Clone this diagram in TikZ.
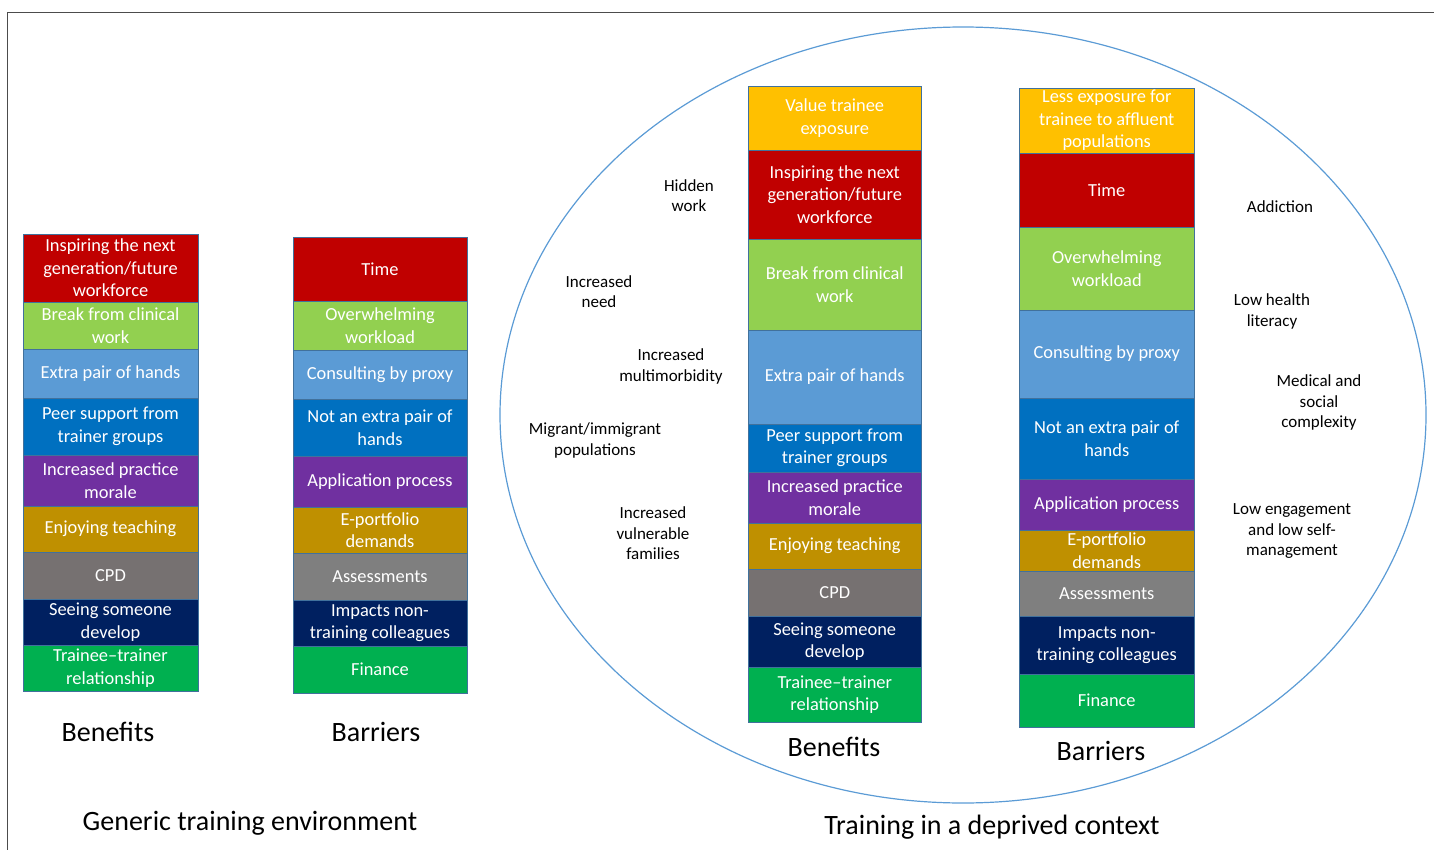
\documentclass[tikz,border=0pt]{standalone}
\usepackage{fontspec}
\setmainfont{Carlito}

\definecolor{cellline}{HTML}{41719C}
\definecolor{cred}{HTML}{C00000}
\definecolor{clime}{HTML}{92D050}
\definecolor{csky}{HTML}{5B9BD5}
\definecolor{cblue}{HTML}{0070C0}
\definecolor{cpurple}{HTML}{7030A0}
\definecolor{cgold}{HTML}{BF9000}
\definecolor{cgrey}{HTML}{767171}
\definecolor{cgreyb}{HTML}{7F7F7F}
\definecolor{cnavy}{HTML}{002060}
\definecolor{cgreen}{HTML}{00B050}
\definecolor{cyellow}{HTML}{FFC000}
\definecolor{ringblue}{HTML}{5B9BD5}

\tikzset{
	cell/.style={draw=cellline,line width=0.8pt,text=white,inner sep=0pt,align=center,
		font=\fontsize{18.4}{22.5}\selectfont},
	genben/.style={cell,minimum width=175pt},
	genbar/.style={cell,minimum width=174pt},
	depben/.style={cell,minimum width=173.5pt},
	depbar/.style={cell,minimum width=174.5pt},
	coltitle/.style={font=\fontsize{28}{33}\selectfont},
	note/.style={align=center,font=\fontsize{17}{20.5}\selectfont}
}

\begin{document}
\begin{tikzpicture}[x=1pt,y=-1pt]
		\useasboundingbox (0,0) rectangle (1434,850);
		% frame and ring
		\draw[black!70,line width=0.8pt] (7,850)|-(1434,12);
		\draw[ringblue,line width=1.2pt] (963,415) ellipse[x radius=463,y radius=388];

		% generic training environment: benefits
		\node[genben,fill=cred,minimum height=68pt] (gb1) at (110.5,268) {Inspiring the next\\generation/future\\workforce};
		\node[genben,fill=clime,minimum height=47pt] (gb2) at (110.5,325.5) {Break from clinical\\work};
		\node[genben,fill=csky,minimum height=49pt] (gb3) at (110.5,373.5) {Extra pair of hands};
		\node[genben,fill=cblue,minimum height=57pt] (gb4) at (110.5,426.5) {Peer support from\\trainer groups};
		\node[genben,fill=cpurple,minimum height=51pt] (gb5) at (110.5,480.5) {Increased practice\\morale};
		\node[genben,fill=cgold,minimum height=46pt] (gb6) at (110.5,529) {Enjoying teaching};
		\node[genben,fill=cgrey,minimum height=47pt] (gb7) at (110.5,575.5) {CPD};
		\node[genben,fill=cnavy,minimum height=46pt] (gb8) at (110.5,622) {Seeing someone\\develop};
		\node[genben,fill=cgreen,minimum height=46pt] (gb9) at (110.5,668) {Trainee--trainer\\relationship};

		% generic training environment: barriers
		\node[genbar,fill=cred,minimum height=64pt] (gr1) at (380,269) {Time};
		\node[genbar,fill=clime,minimum height=49pt] (gr2) at (380,325.5) {Overwhelming\\workload};
		\node[genbar,fill=csky,minimum height=49pt] (gr3) at (380,374.5) {Consulting by proxy};
		\node[genbar,fill=cblue,minimum height=57pt] (gr4) at (380,427.5) {Not an extra pair of\\hands};
		\node[genbar,fill=cpurple,minimum height=51pt] (gr5) at (380,481.5) {Application process};
		\node[genbar,fill=cgold,minimum height=46pt] (gr6) at (380,530) {E-portfolio\\demands};
		\node[genbar,fill=cgreyb,minimum height=47pt] (gr7) at (380,576.5) {Assessments};
		\node[genbar,fill=cnavy,minimum height=46pt] (gr8) at (380,623) {Impacts non-\\training colleagues};
		\node[genbar,fill=cgreen,minimum height=47pt] (gr9) at (380,669.5) {Finance};

		% deprived context: benefits
		\node[depben,fill=cyellow,minimum height=64pt] (db1) at (834.75,118) {Value trainee\\exposure};
		\node[depben,fill=cred,minimum height=89pt] (db2) at (834.75,194.5) {Inspiring the next\\generation/future\\workforce};
		\node[depben,fill=clime,minimum height=91pt] (db3) at (834.75,284.5) {Break from clinical\\work};
		\node[depben,fill=csky,minimum height=94pt] (db4) at (834.75,377) {Extra pair of hands};
		\node[depben,fill=cblue,minimum height=48pt] (db5) at (834.75,448) {Peer support from\\trainer groups};
		\node[depben,fill=cpurple,minimum height=51pt] (db6) at (834.75,497.5) {Increased practice\\morale};
		\node[depben,fill=cgold,minimum height=46pt] (db7) at (834.75,546) {Enjoying teaching};
		\node[depben,fill=cgrey,minimum height=47pt] (db8) at (834.75,592.5) {CPD};
		\node[depben,fill=cnavy,minimum height=51pt] (db9) at (834.75,641.5) {Seeing someone\\develop};
		\node[depben,fill=cgreen,minimum height=55pt] (db10) at (834.75,694.5) {Trainee--trainer\\relationship};

		% deprived context: barriers
		\node[depbar,fill=cyellow,minimum height=65pt] (dr1) at (1106.75,120.5) {Less exposure for\\trainee to affluent\\populations};
		\node[depbar,fill=cred,minimum height=74pt] (dr2) at (1106.75,190) {Time};
		\node[depbar,fill=clime,minimum height=83pt] (dr3) at (1106.75,268.5) {Overwhelming\\workload};
		\node[depbar,fill=csky,minimum height=88pt] (dr4) at (1106.75,354) {Consulting by proxy};
		\node[depbar,fill=cblue,minimum height=81pt] (dr5) at (1106.75,438.5) {Not an extra pair of\\hands};
		\node[depbar,fill=cpurple,minimum height=51pt] (dr6) at (1106.75,504.5) {Application process};
		\node[depbar,fill=cgold,minimum height=41pt] (dr7) at (1106.75,550.5) {E-portfolio\\demands};
		\node[depbar,fill=cgreyb,minimum height=45pt] (dr8) at (1106.75,593.5) {Assessments};
		\node[depbar,fill=cnavy,minimum height=58pt] (dr9) at (1106.75,645) {Impacts non-\\training colleagues};
		\node[depbar,fill=cgreen,minimum height=53pt] (dr10) at (1106.75,700.5) {Finance};

		% context notes
		\node[note] (hidden) at (689,195.5) {Hidden\\work};
		\node[note] (need) at (599,291.5) {Increased\\need};
		\node[note] (multi) at (671,366.5) {Increased\\multimorbidity};
		\node[note] (migrant) at (595,440.5) {Migrant/immigrant\\populations};
		\node[note] (vuln) at (653,533.5) {Increased\\vulnerable\\families};
		\node[note] (addict) at (1280,206.5) {Addiction};
		\node[note] (literacy) at (1272,311.5) {Low health\\literacy};
		\node[note] (complex) at (1319,402.5) {Medical and\\social\\complexity};
		\node[note] (engage) at (1292,531.5) {Low engagement\\and low self-\\management};

		% titles
		\node[coltitle] (genbentitle) at (108,732) {Benefits};
		\node[coltitle] (genbartitle) at (376,732) {Barriers};
		\node[coltitle] (gentitle) at (250,823) {Generic training environment};
		\node[coltitle] (depbentitle) at (834,747) {Benefits};
		\node[coltitle] (depbartitle) at (1101,751) {Barriers};
		\node[coltitle] (deptitle) at (992,827) {Training in a deprived context};
	\end{tikzpicture}
\end{document}
